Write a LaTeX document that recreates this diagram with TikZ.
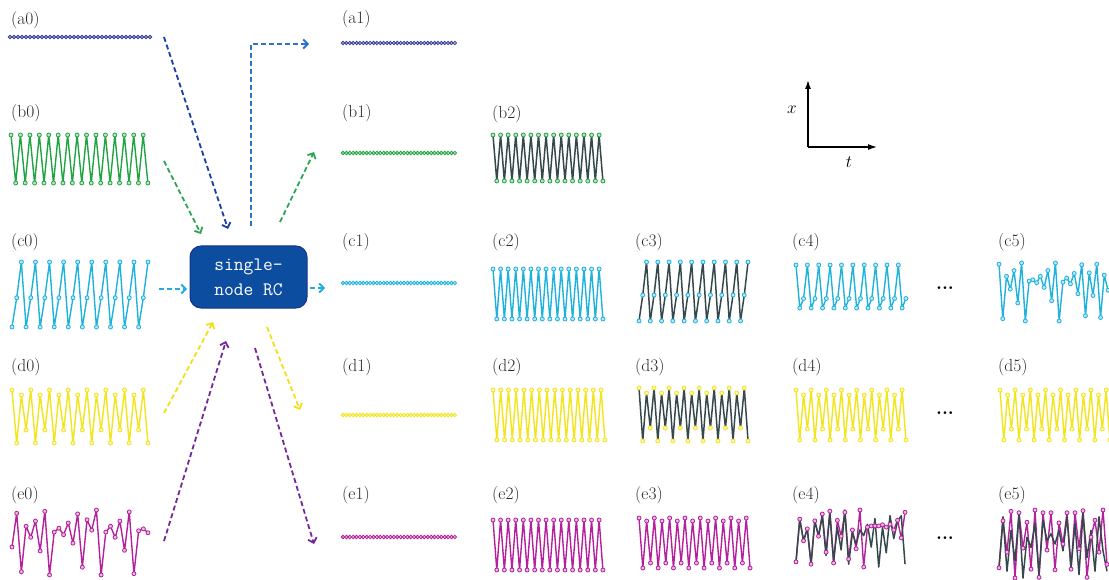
\documentclass[tikz,border=0pt]{standalone}
\usetikzlibrary{arrows.meta}
\definecolor{cNavy}{HTML}{3B3F98}
\definecolor{cGreen}{HTML}{22A444}
\definecolor{cCyan}{HTML}{1EB2DC}
\definecolor{cYellow}{HTML}{F3E41C}
\definecolor{cMag}{HTML}{B4219C}
\definecolor{cGray}{HTML}{35484B}
\definecolor{aBlue}{HTML}{1C3DA6}
\definecolor{aBlueL}{HTML}{2B72C8}
\definecolor{aGreen}{HTML}{2CA454}
\definecolor{aCyan}{HTML}{27A9E1}
\definecolor{aYellow}{HTML}{F0E01A}
\definecolor{aPurple}{HTML}{76279A}
\definecolor{boxFill}{HTML}{0D4DA0}
\definecolor{boxEdge}{HTML}{163488}
\definecolor{labC}{HTML}{2A2A2A}

% coordinates from list
\newcommand\wvlist[6]{% #1 prefix, #2 x0, #3 dx, #4 ytop, #5 ybot, #6 list
  \foreach \v [count=\k from 0] in {#6} {\coordinate (#1-\k) at ({#2+\k*#3},{#4+\v*(#5-#4)});}%
}
% coordinates from expression in \k
\newcommand\wvexpr[7]{% #1 prefix, #2 x0, #3 dx, #4 ytop, #5 ybot, #6 last index, #7 expr
  \foreach \k in {0,...,#6} {\pgfmathsetmacro\vv{#7}\coordinate (#1-\k) at ({#2+\k*#3},{#4+\vv*(#5-#4)});}%
}
\newcommand\wline[3]{% prefix, last index, style
  \draw[#3] (#1-0) \foreach \k in {1,...,#2} {-- (#1-\k)};%
}
\newcommand\wdots[4]{% prefix, last index, colour, radius
  \foreach \k in {0,...,#2} {\draw[dotring=#3] (#1-\k) circle[radius=#4];}%
}

\begin{document}
\begin{tikzpicture}[x=1pt,y=-1pt,
  lab/.style={anchor=west,inner sep=0pt,text=labC,font=\fontsize{17.5}{20}\selectfont},
  dotring/.style={draw=#1,fill=#1!30,line width=0.8pt},
  wl/.style={draw=#1,line width=1.4pt,line join=round},
  gl/.style={draw=cGray,line width=1.5pt,line join=round},
  flow/.style={line width=1.8pt,dash pattern=on 5pt off 3pt,
    -{Straight Barb[length=4.5pt,width=9pt]}},
  rc/.style={draw=boxEdge,line width=1pt,fill=boxFill,rounded corners=11pt,
    minimum width=117pt,minimum height=62pt,text=white,align=center,
    font=\ttfamily\fontsize{19}{25}\selectfont},
  ax/.style={line width=1.3pt,-{Latex[length=9pt,width=6pt]}},
  dots/.style={inner sep=0pt,font=\bfseries\fontsize{19}{20}\selectfont}
]
\useasboundingbox (0,0) rectangle (1109,580);

% ---------------- labels ----------------
\node[lab] (la0) at (11,20) {(a0)};
\node[lab] (la1) at (342,19) {(a1)};
\node[lab] (lb0) at (11,113) {(b0)};
\node[lab] (lb1) at (342,113) {(b1)};
\node[lab] (lb2) at (492,114) {(b2)};
\node[lab] (lc0) at (11,242) {(c0)};
\node[lab] (lc1) at (342,242) {(c1)};
\node[lab] (lc2) at (492,242) {(c2)};
\node[lab] (lc3) at (635,242) {(c3)};
\node[lab] (lc4) at (792,242) {(c4)};
\node[lab] (lc5) at (998,242) {(c5)};
\node[lab] (ld0) at (11,367) {(d0)};
\node[lab] (ld1) at (342,367) {(d1)};
\node[lab] (ld2) at (492,367) {(d2)};
\node[lab] (ld3) at (635,367) {(d3)};
\node[lab] (ld4) at (792,367) {(d4)};
\node[lab] (ld5) at (998,367) {(d5)};
\node[lab] (le0) at (11,495) {(e0)};
\node[lab] (le1) at (342,495) {(e1)};
\node[lab] (le2) at (492,495) {(e2)};
\node[lab] (le3) at (635,495) {(e3)};
\node[lab] (le4) at (792,495) {(e4)};
\node[lab] (le5) at (998,495) {(e5)};

% ---------------- row a ----------------
\wvexpr{a0}{10}{4}{37}{37}{35}{0}
\wline{a0}{35}{wl=cNavy}
\wdots{a0}{35}{cNavy}{1.8}
\wvexpr{a1}{343}{3.39}{43}{43}{33}{0}
\wline{a1}{33}{wl=cNavy}
\wdots{a1}{33}{cNavy}{1.7}

% ---------------- row b ----------------
\wvexpr{b0}{11}{4.72}{135}{183}{29}{mod(\k,2)}
\wline{b0}{29}{wl=cGreen}
\wdots{b0}{29}{cGreen}{2}
\wvexpr{b1}{343}{3.39}{153}{153}{33}{0}
\wline{b1}{33}{wl=cGreen}
\wdots{b1}{33}{cGreen}{1.8}
\wvexpr{b2}{493}{3.79}{135}{181}{29}{mod(\k,2)}
\wline{b2}{29}{gl}
\wdots{b2}{29}{cGreen}{2}

% ---------------- row c ----------------
\wvexpr{c0}{12}{4.69}{262}{327}{29}{(mod(\k,3)==0)+0.55*(mod(\k,3)==1)}
\wline{c0}{29}{wl=cCyan}
\wdots{c0}{29}{cCyan}{2}
\wvexpr{c1}{343}{3.39}{283}{283}{33}{0}
\wline{c1}{33}{wl=cCyan}
\wdots{c1}{33}{cCyan}{1.8}
\wvexpr{c2}{493}{3.79}{269}{319}{29}{mod(\k,2)}
\wline{c2}{29}{wl=cCyan}
\wdots{c2}{29}{cCyan}{2}
\wvexpr{c3}{639}{3.76}{262}{321}{29}{(mod(\k,3)==0)+0.56*(mod(\k,3)==1)}
\wline{c3}{29}{gl}
\wdots{c3}{29}{cCyan}{2}
\wvexpr{c4}{796}{3.79}{265}{308}{29}{(mod(\k,3)==1)+0.78*(mod(\k,3)==2)}
\wline{c4}{29}{wl=cCyan}
\wdots{c4}{29}{cCyan}{2}
\wvlist{c5}{999}{3.76}{263}{321}{0.02,0.96,0.23,0.45,0.13,0.69,0.0,1.0,0.31,0.29,0.34,0.23,0.42,0.13,0.65,0.0,1.0,0.33,0.26,0.36,0.18,0.53,0.03,0.91,0.17,0.56,0.02,0.94,0.21,0.47}
\wline{c5}{29}{wl=cCyan}
\wdots{c5}{29}{cCyan}{2}

% ---------------- row d ----------------
\wvexpr{d0}{12}{4.69}{390}{443}{29}{(mod(\k,4)==1)+0.094*(mod(\k,4)==2)+0.755*(mod(\k,4)==3)}
\wline{d0}{29}{wl=cYellow}
\wdots{d0}{29}{cYellow}{2}
\wvexpr{d1}{343}{3.39}{415}{415}{33}{0}
\wline{d1}{33}{wl=cYellow}
\wdots{d1}{33}{cYellow}{1.8}
\wvexpr{d2}{493}{3.86}{390}{440}{29}{mod(\k,2)}
\wline{d2}{29}{wl=cYellow}
\wdots{d2}{29}{cYellow}{2}
\wvexpr{d3}{639}{3.76}{388}{441}{29}{(mod(\k,4)==1)+0.094*(mod(\k,4)==2)+0.755*(mod(\k,4)==3)}
\wline{d3}{29}{gl}
\wdots{d3}{29}{cYellow}{2}
\wvexpr{d4}{796}{3.79}{390}{440}{29}{(mod(\k,4)==1)+0.1*(mod(\k,4)==2)+0.78*(mod(\k,4)==3)}
\wline{d4}{29}{wl=cYellow}
\wdots{d4}{29}{cYellow}{2}
\wvexpr{d5}{1000}{3.79}{390}{440}{29}{(mod(\k,4)==1)+0.1*(mod(\k,4)==2)+0.78*(mod(\k,4)==3)}
\wline{d5}{29}{wl=cYellow}
\wdots{d5}{29}{cYellow}{2}

% ---------------- row e ----------------
\wvlist{e0}{12}{4.69}{510}{575}{0.57,0.05,0.95,0.25,0.42,0.17,0.63,0.02,1.0,0.34,0.28,0.38,0.20,0.51,0.06,0.88,0.15,0.31,0.0,1.0,0.34,0.25,0.42,0.17,0.62,0.03,0.98,0.32,0.29,0.35}
\wline{e0}{29}{wl=cMag}
\wdots{e0}{29}{cMag}{2}
\wvexpr{e1}{343}{3.39}{537}{537}{33}{0}
\wline{e1}{33}{wl=cMag}
\wdots{e1}{33}{cMag}{1.8}
\wvexpr{e2}{493}{3.79}{520}{570}{29}{mod(\k,2)}
\wline{e2}{29}{wl=cMag}
\wdots{e2}{29}{cMag}{2}
\wvexpr{e3}{639}{3.83}{518}{568}{29}{(mod(\k,4)==1)+0.06*(mod(\k,4)==2)+0.9*(mod(\k,4)==3)}
\wline{e3}{29}{wl=cMag}
\wdots{e3}{29}{cMag}{2}
% e4
\wvlist{e4}{796}{3.76}{510}{567}{0.91,0.16,0.54,0.33,0.95,0.19,0.46,0.07,0.74,0.02,0.93,0.18,0.46,0.04,0.86,0.35,0.68,0.0,1.0,0.30,0.28,0.28,0.28,0.26,0.30,0.25,0.35,0.18,0.49,0.04}
\wvlist{g4}{796}{3.76}{510}{567}{0.91,0.16,0.54,0.33,0.95,0.19,0.46,0.1,0.8,0.05,0.9,0.3,0.7,0.0,0.95,0.4,0.6,0.35,0.45,0.25,0.65,0.15,1.0,0.3,0.75,0.1,0.5,0.2,0.1,0.95}
\wline{e4}{29}{wl=cMag}
\wline{g4}{29}{gl}
\wdots{e4}{29}{cMag}{2}
% e5
\wvlist{e5}{999}{4.0}{510}{578}{0.85,0.16,0.62,0.02,1.0,0.04,0.56,0.18,0.87,0.0,0.99,0.04,0.59,0.04,0.88,0.19,0.50,0.04,0.87,0.04,0.57,0.01,0.99,0.40,0.15,0.62,0.0,0.8}
\wvlist{g5}{999}{4.0}{510}{578}{0.85,0.1,0.9,0.3,0.75,0.05,1.0,0.4,0.55,0.2,0.95,0.15,0.45,0.35,0.5,0.3,0.6,0.1,0.85,0.2,0.95,0.05,0.7,0.3,0.9,0.1,0.6,0.9}
\wline{e5}{27}{wl=cMag}
\wline{g5}{27}{gl}
\wdots{e5}{27}{cMag}{2}

% ---------------- ellipses ----------------
\node[dots] (elc) at (945,288) {...};
\node[dots] (eld) at (945,413) {...};
\node[dots] (ele) at (945,538) {...};

% ---------------- axes ----------------
\coordinate (ao) at (808,147);
\coordinate (ay) at (808,80);
\coordinate (at) at (877,147);
\draw[ax] (ao) -- (ay);
\draw[ax] (ao) -- (at);
\node[inner sep=0pt,font=\fontsize{18}{20}\selectfont] (axl) at (792,110) {$x$};
\node[inner sep=0pt,font=\fontsize{18}{20}\selectfont] (atl) at (849,162) {$t$};

% ---------------- connectors ----------------
\coordinate (ain) at (164,37);   \coordinate (aend) at (228,229);
\coordinate (aout0) at (251,226); \coordinate (aout1) at (309,44);
\coordinate (bin) at (164,161);  \coordinate (bend) at (201,234);
\coordinate (bout0) at (280,222); \coordinate (bout1) at (314,152);
\coordinate (cin) at (159,289);  \coordinate (cend) at (187,289);
\coordinate (cout0) at (310,288); \coordinate (cout1) at (325,288);
\coordinate (din) at (164,413);  \coordinate (dend) at (213,322);
\coordinate (dout0) at (267,327); \coordinate (dout1) at (300,410);
\coordinate (ein) at (164,541);  \coordinate (eend) at (226,341);
\coordinate (eout0) at (255,348); \coordinate (eout1) at (314,544);

\draw[flow,aBlue] (ain) -- (aend);
\draw[flow,aBlueL] (aout0) |- (aout1);
\draw[flow,aGreen] (bin) -- (bend);
\draw[flow,aGreen] (bout0) -- (bout1);
\draw[flow,aCyan] (cin) -- (cend);
\draw[flow,aCyan] (cout0) -- (cout1);
\draw[flow,aYellow] (din) -- (dend);
\draw[flow,aYellow] (dout0) -- (dout1);
\draw[flow,aPurple] (ein) -- (eend);
\draw[flow,aPurple] (eout0) -- (eout1);

% ---------------- reservoir box ----------------
\node[rc] (rc) at (248.5,277) {single-\\node RC};
\end{tikzpicture}
\end{document}
